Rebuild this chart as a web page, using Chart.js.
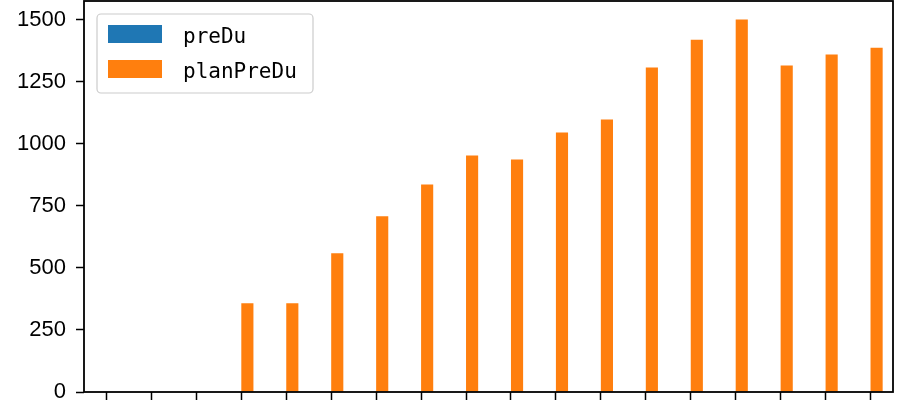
<!DOCTYPE html>
<html lang="en">
<head>
    <meta charset="UTF-8">
    <title>preDu / planPreDu</title>
    <script src="https://cdn.jsdelivr.net/npm/chart.js"></script>
    <style>
        * { margin: 0; padding: 0; box-sizing: border-box; }
        body { background: white; }
        .chart-container { width: 897px; height: 404px; position: relative; }
    </style>
</head>
<body>
    <div class="chart-container">
        <canvas id="barChart"></canvas>
    </div>

    <script>
        // categories have no visible tick labels in the original
        const categories = ['', '', '', '', '', '', '', '', '', '', '', '', '', '', '', '', '', ''];
        const preDu = [0, 0, 0, 0, 0, 0, 0, 0, 0, 0, 0, 0, 0, 0, 0, 0, 0, 0];
        const planPreDu = [0, 0, 0, 358, 358, 559, 708, 836, 953, 937, 1045, 1098, 1307, 1419, 1500, 1315, 1359, 1387];
        const yTicks = [0, 250, 500, 750, 1000, 1250, 1500];

        // box around the plot + legend in the upper left corner
        const framePlugin = {
            id: 'frame',
            afterDraw(chart) {
                const ctx = chart.ctx;
                const a = chart.chartArea;
                ctx.save();
                ctx.strokeStyle = '#000';
                ctx.lineWidth = 1.8;
                ctx.strokeRect(a.left, a.top, a.right - a.left, a.bottom - a.top);

                // legend
                const x0 = 97, y0 = 14, w = 216, h = 79, r = 4;
                ctx.beginPath();
                ctx.roundRect(x0, y0, w, h, r);
                ctx.fillStyle = 'rgba(255,255,255,0.8)';
                ctx.fill();
                ctx.strokeStyle = '#cccccc';
                ctx.lineWidth = 1.2;
                ctx.stroke();

                ctx.font = '21px "DejaVu Sans Mono"';
                ctx.textBaseline = 'alphabetic';
                chart.data.datasets.forEach((ds, i) => {
                    const yy = 25 + i * 35;
                    ctx.fillStyle = ds.backgroundColor;
                    ctx.fillRect(108, yy, 54, 18);
                    ctx.fillStyle = '#000';
                    ctx.fillText(ds.label, 183, yy + 18);
                });
                ctx.restore();
            }
        };

        function noPad(scale) {
            scale.paddingTop = 0;
            scale.paddingBottom = 0;
            scale.paddingLeft = 0;
            scale.paddingRight = 0;
        }

        new Chart(document.getElementById('barChart'), {
            type: 'bar',
            data: {
                labels: categories,
                datasets: [
                    { label: 'preDu', data: preDu, backgroundColor: '#1f77b4' },
                    { label: 'planPreDu', data: planPreDu, backgroundColor: '#ff7f0e' }
                ]
            },
            options: {
                responsive: true,
                maintainAspectRatio: false,
                animation: false,
                categoryPercentage: 0.54,
                barPercentage: 1.0,
                layout: { padding: { top: 1, right: 4, left: 0, bottom: 0 } },
                plugins: {
                    legend: { display: false },
                    tooltip: { enabled: false }
                },
                scales: {
                    x: {
                        offset: true,
                        border: { display: false },
                        grid: {
                            offset: false,
                            drawOnChartArea: false,
                            drawTicks: true,
                            tickLength: 8,
                            tickColor: '#000',
                            tickWidth: 1.5
                        },
                        ticks: { display: false },
                        afterFit(scale) { scale.height = 12; noPad(scale); }
                    },
                    y: {
                        min: 0,
                        max: 1575,
                        border: { display: false },
                        grid: {
                            drawOnChartArea: false,
                            drawTicks: true,
                            tickLength: 8,
                            tickColor: '#000',
                            tickWidth: 1.5
                        },
                        afterBuildTicks(scale) {
                            scale.ticks = yTicks.map(v => ({ value: v }));
                        },
                        ticks: {
                            color: '#000',
                            padding: 10,
                            font: { family: '"Liberation Sans", Arial, sans-serif', size: 22 },
                            callback: v => String(v)
                        },
                        afterFit(scale) { scale.width = 84; noPad(scale); }
                    }
                }
            },
            plugins: [framePlugin]
        });
    </script>
</body>
</html>
